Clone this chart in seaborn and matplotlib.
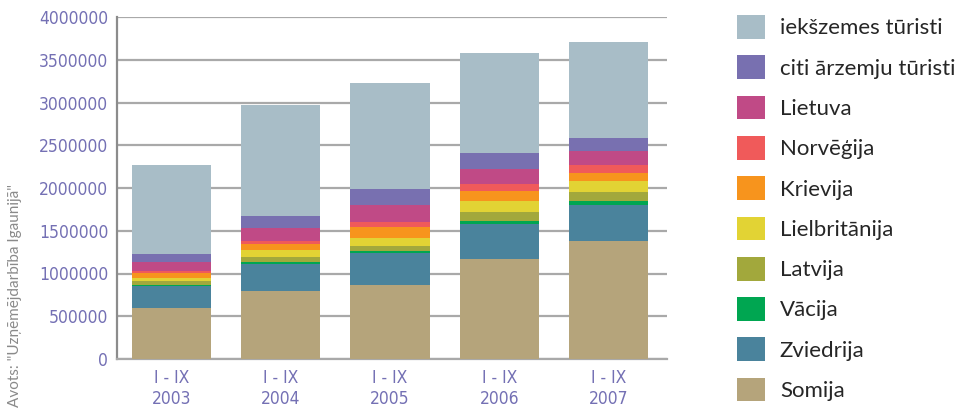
import matplotlib
matplotlib.use("Agg")
import matplotlib.pyplot as plt
from matplotlib import font_manager
from matplotlib.font_manager import FontProperties
from matplotlib.patches import Patch
import numpy as np
import pandas as pd
import seaborn as sns

# Tourist arrivals in Estonia, January-September, by origin
periods = ["I - IX\n2003", "I - IX\n2004", "I - IX\n2005", "I - IX\n2006", "I - IX\n2007"]

# stacking order from the bottom up
series_names = ["Somija", "Zviedrija", "Vācija", "Latvija", "Lielbritānija",
                "Krievija", "Norvēģija", "Lietuva", "citi ārzemju tūristi",
                "iekšzemes tūristi"]

somija        = [600000, 799000, 865000, 1170000, 1380000]
zviedrija     = [257000, 312000, 375000, 409000, 421000]
vacija        = [12000, 27000, 23000, 35000, 47000]
latvija       = [47000, 55000, 59000, 105000, 105000]
lielbritanija = [35000, 82000, 93000, 129000, 129000]
krievija      = [55000, 70000, 129000, 117000, 95000]
norvegija     = [26000, 39000, 58000, 82000, 94000]
lietuva       = [106000, 148000, 203000, 175000, 163000]
citi          = [90000, 141000, 183000, 187000, 152000]
iekszemes     = [1041000, 1298000, 1240000, 1170000, 1123000]

series_values = [somija, zviedrija, vacija, latvija, lielbritanija,
                 krievija, norvegija, lietuva, citi, iekszemes]

colors = ["#b5a47b", "#4a839c", "#00a651", "#a2a83c", "#e2d334",
          "#f7941d", "#f05a5a", "#c04a86", "#7870b0", "#a8bdc7"]

y_ticks = [0, 500000, 1000000, 1500000, 2000000, 2500000, 3000000, 3500000, 4000000]

sns.set_theme(style="white")
plt.rcParams["font.family"] = ["Lato", "DejaVu Sans"]


def narrow_font(size):
    """Pick a condensed face for the axis numbers when one is installed."""
    fonts = font_manager.fontManager.ttflist
    for f in fonts:
        if f.name == "Liberation Sans Narrow" and f.weight in (400, "normal") and f.style == "normal":
            return FontProperties(fname=f.fname, size=size)
    for f in fonts:
        if f.fname.endswith("DejaVuSansCondensed.ttf"):
            return FontProperties(fname=f.fname, size=size)
    return FontProperties(family="Lato", size=size)


label_blue = "#7470b4"

fig = plt.figure(figsize=(9.77, 4.08), dpi=100)
ax = fig.add_axes([116.7 / 977, 49 / 408, 550 / 977, 342 / 408])

# cumulative tops, drawn from the tallest layer down so each layer shows its own slice
data = np.array(series_values, dtype=float)
cum = np.cumsum(data, axis=0)
for i in range(len(series_names) - 1, -1, -1):
    df = pd.DataFrame({"period": periods, "value": cum[i]})
    sns.barplot(data=df, x="period", y="value", color=colors[i], saturation=1,
                width=0.725, ax=ax, zorder=3, linewidth=0)

ax.set_ylim(0, 4000000)
ax.set_xlim(-0.5, 4.53)
ax.set_yticks(y_ticks)
ax.set_yticklabels([str(v) for v in y_ticks])
ax.yaxis.grid(True, color="#a9a9a9", linewidth=1.6, zorder=0)
ax.set_axisbelow(True)
ax.set_xlabel("")
ax.set_ylabel("")

for s in ["top", "right"]:
    ax.spines[s].set_visible(False)
ax.spines["left"].set_color("#8c8c8c")
ax.spines["left"].set_linewidth(1.6)
ax.spines["bottom"].set_color("#a9a9a9")
ax.spines["bottom"].set_linewidth(1.6)

ax.tick_params(axis="y", length=0, pad=6, labelcolor=label_blue)
ax.tick_params(axis="x", which="major", length=0, pad=7, labelcolor=label_blue)
for t in ax.get_yticklabels():
    t.set_fontproperties(narrow_font(12.5))
for t in ax.get_xticklabels():
    t.set_fontproperties(narrow_font(12.5))
    t.set_linespacing(1.25)

# small inward ticks between the period groups
ax.set_xticks([0.5, 1.5, 2.5, 3.5, 4.5], minor=True)
ax.tick_params(axis="x", which="minor", direction="in", length=7, width=1.4,
               color="#a9a9a9")

fig.text(15 / 977, 1 / 408, "Avots: \"Uzņēmējdarbība Igaunijā\"", rotation=90,
         ha="center", va="bottom", fontsize=11, color="#8a8a8a")

handles = [Patch(facecolor=colors[i], edgecolor="none") for i in range(len(series_names) - 1, -1, -1)]
labels = [series_names[i] for i in range(len(series_names) - 1, -1, -1)]
fig.legend(handles, labels, loc="upper left",
           bbox_to_anchor=(736.7 / 977, (408 - 15) / 408),
           frameon=False, fontsize=16, handlelength=1.26, handleheight=1.26,
           handletextpad=0.68, labelspacing=0.75, borderpad=0, borderaxespad=0)

fig.savefig("out.png", dpi=100)
